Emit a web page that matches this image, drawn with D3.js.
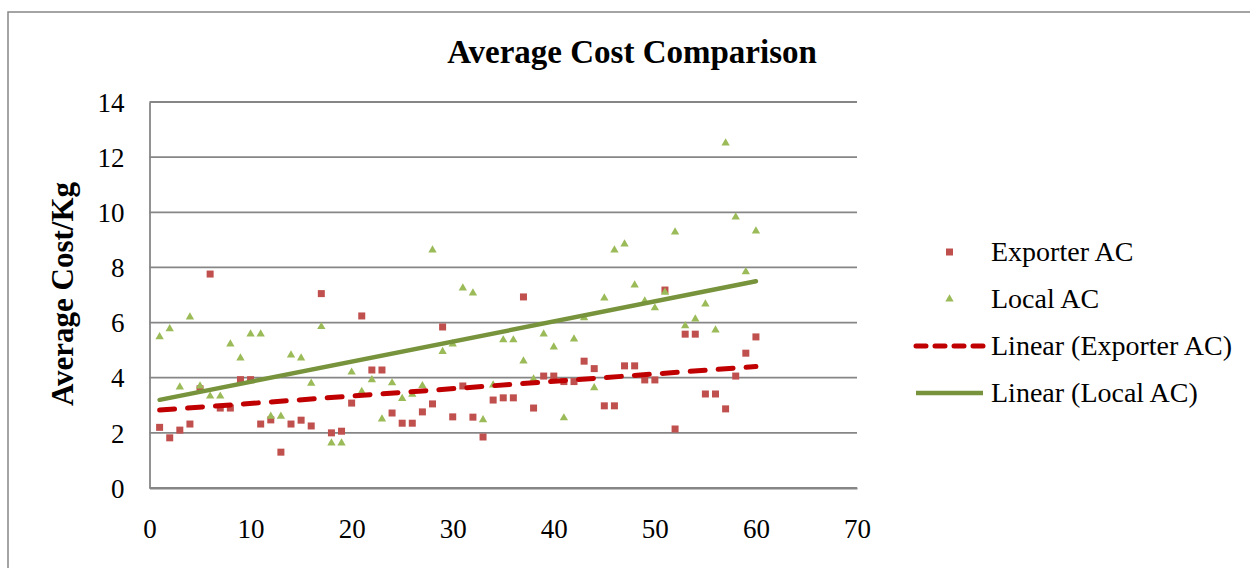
<!DOCTYPE html>
<html><head><meta charset="utf-8">
<script src="https://cdn.jsdelivr.net/npm/d3@7"></script>
<style>
html,body{margin:0;padding:0;background:#fff;}
svg text{font-family:"Liberation Serif",serif;fill:#000;}
</style></head>
<body><svg id="c" width="1250" height="568"></svg>
<script>
const xValues = d3.range(1, 61);
const exporterAC = [2.2,1.82,2.1,2.32,3.6,7.76,2.9,2.9,3.93,3.93,
  2.32,2.47,1.3,2.32,2.46,2.25,7.05,2.0,2.06,3.08,
  6.24,4.28,4.28,2.72,2.35,2.35,2.76,3.05,5.84,2.58,
  3.7,2.57,1.85,3.19,3.27,3.27,6.93,2.9,4.06,4.06,
  3.86,3.86,4.6,4.33,2.98,2.98,4.43,4.43,3.92,3.92,
  7.18,2.14,5.58,5.58,3.41,3.41,2.87,4.06,4.89,5.48];
const localAC = [5.48,5.77,3.66,6.2,3.7,3.33,3.33,5.22,4.71,5.58,
  5.58,2.6,2.6,4.82,4.71,3.8,5.85,1.63,1.63,4.2,
  3.5,3.92,2.5,3.81,3.24,3.4,3.71,8.63,4.95,5.22,
  7.25,7.07,2.47,3.73,5.37,5.37,4.6,3.95,5.58,5.11,
  2.54,5.4,6.17,3.63,6.89,8.63,8.85,7.36,6.78,6.53,
  7.1,9.28,5.88,6.13,6.67,5.73,12.51,9.83,7.84,9.32];
const xTicks = [0,10,20,30,40,50,60,70];
const yTicks = [0,2,4,6,8,10,12,14];
const seriesNames = ["Exporter AC","Local AC","Linear (Exporter AC)","Linear (Local AC)"];

const svg = d3.select("#c");
const grey = "#868686";
const FONT = '"Liberation Serif",serif';
// outer chart border
svg.append("rect").attr("x",8).attr("y",12).attr("width",1250).attr("height",600)
  .attr("fill","none").attr("stroke",grey).attr("stroke-width",1.5);

const x = d3.scaleLinear().domain([0,70]).range([149.5,857]);
const y = d3.scaleLinear().domain([0,14]).range([488,102]);

// gridlines
svg.append("g").selectAll("line").data(yTicks).join("line")
  .attr("x1",x(0)).attr("x2",x(70)).attr("y1",d=>y(d)).attr("y2",d=>y(d))
  .attr("stroke",grey).attr("stroke-width",1.8);

// axes
const yAxis = svg.append("g").attr("transform",`translate(${x(0)},0)`)
  .call(d3.axisLeft(y).tickValues(yTicks).tickSize(0).tickPadding(25));
yAxis.select(".domain").attr("stroke",grey).attr("stroke-width",1.8);
yAxis.selectAll("text").attr("font-size",27).style("font-family",FONT).attr("dy","0.34em");
const xAxis = svg.append("g").attr("transform",`translate(0,${y(0)})`)
  .call(d3.axisBottom(x).tickValues(xTicks).tickSize(0).tickPadding(41));
xAxis.select(".domain").attr("stroke",grey).attr("stroke-width",1.8);
xAxis.selectAll("text").attr("font-size",27).style("font-family",FONT).attr("dy","0.34em");

// regression
function linreg(xs, ys){
  const mx=d3.mean(xs), my=d3.mean(ys);
  let sxy=0,sxx=0; xs.forEach((v,i)=>{sxy+=(v-mx)*(ys[i]-my); sxx+=(v-mx)*(v-mx);});
  const b=sxy/sxx; return {a:my-b*mx,b};
}
const rE = linreg(xValues, exporterAC), rL = linreg(xValues, localAC);
const x0 = xValues[0], x1 = xValues[xValues.length-1];

// points
svg.append("g").selectAll("rect").data(exporterAC).join("rect")
  .attr("x",(d,i)=>x(xValues[i])-3.5).attr("y",d=>y(d)-3.5)
  .attr("width",7).attr("height",7).attr("fill","#C0504D");
const tri = d3.symbol().type(d3.symbolTriangle).size(30);
svg.append("g").selectAll("path").data(localAC).join("path")
  .attr("d",tri).attr("transform",(d,i)=>`translate(${x(xValues[i])},${y(d)})`)
  .attr("fill","#9BBB59");

// trend lines
svg.append("line").attr("x1",x(x0)).attr("x2",x(x1))
  .attr("y1",y(rL.a+rL.b*x0)).attr("y2",y(rL.a+rL.b*x1))
  .attr("stroke","#77933C").attr("stroke-width",4.5).attr("stroke-linecap","round");
svg.append("line").attr("x1",x(x0)).attr("x2",x(x1))
  .attr("y1",y(rE.a+rE.b*x0)).attr("y2",y(rE.a+rE.b*x1))
  .attr("stroke","#C00000").attr("stroke-width",5).attr("stroke-linecap","round")
  .attr("stroke-dasharray","15,13");

// title
svg.append("text").attr("x",632).attr("y",63).attr("text-anchor","middle")
  .attr("font-size",33).attr("font-weight","bold").text("Average Cost Comparison");
// y title
svg.append("text").attr("transform","translate(73,294) rotate(-90)").attr("text-anchor","middle")
  .attr("font-size",31).attr("font-weight","bold").text("Average Cost/Kg");

// legend
const leg = svg.append("g");
const ly = [252,299,346,393];
leg.append("rect").attr("x",946).attr("y",ly[0]-3.5).attr("width",7).attr("height",7).attr("fill","#C0504D");
leg.append("path").attr("d",tri).attr("transform",`translate(949.5,${ly[1]})`).attr("fill","#9BBB59");
leg.append("line").attr("x1",916).attr("x2",983).attr("y1",ly[2]).attr("y2",ly[2])
  .attr("stroke","#C00000").attr("stroke-width",5).attr("stroke-linecap","round").attr("stroke-dasharray","10,9");
leg.append("line").attr("x1",916).attr("x2",983).attr("y1",ly[3]).attr("y2",ly[3])
  .attr("stroke","#77933C").attr("stroke-width",4.5);
leg.selectAll("text").data(seriesNames).join("text")
  .attr("x",991).attr("y",(d,i)=>ly[i]+9).attr("font-size",28).text(d=>d);
</script></body></html>
